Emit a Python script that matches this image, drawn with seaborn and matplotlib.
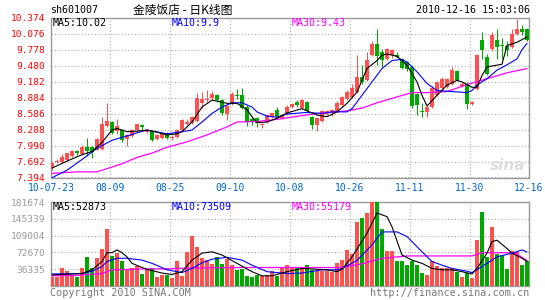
import matplotlib
matplotlib.use("Agg")
import matplotlib.pyplot as plt
import seaborn as sns

# ---------------- data ----------------
price_ticks = [10.374, 10.076, 9.778, 9.480, 9.182, 8.884, 8.586, 8.288, 7.990, 7.692, 7.394]
vol_ticks = [181674, 145339, 109004, 72670, 36335]
date_labels = ["10-07-23", "08-09", "08-25", "09-10", "10-08", "10-26", "11-11", "11-30", "12-16"]

opens = [7.57, 7.68, 7.69, 7.72, 7.80, 7.88, 7.83, 7.96, 7.96, 7.91, 7.92, 8.35, 8.43, 8.27, 8.28, 8.11,
         8.17, 8.28, 8.37, 8.24, 8.26, 8.12, 8.14, 8.22, 8.14, 8.15, 8.28, 8.40, 8.41, 8.45, 8.78, 8.84,
         8.87, 8.93, 8.84, 8.58, 8.76, 8.93, 8.93, 8.72, 8.48, 8.50, 8.37, 8.44, 8.52, 8.65, 8.50, 8.59,
         8.72, 8.80, 8.70, 8.81, 8.53, 8.37, 8.45, 8.58, 8.60, 8.63, 8.74, 8.86, 8.90, 8.99, 9.28, 9.21,
         9.68, 9.88, 9.74, 9.61, 9.68, 9.68, 9.61, 9.55, 9.46, 8.96, 8.63, 8.62, 8.71, 8.93, 9.06, 9.08,
         9.15, 9.38, 9.11, 9.15, 8.76, 9.04, 9.96, 9.64, 9.80, 9.97, 9.87, 9.85, 9.83, 10.08, 10.17, 10.16]
closes = [7.67, 7.71, 7.77, 7.85, 7.89, 7.85, 7.96, 7.89, 7.87, 8.12, 8.40, 8.45, 8.23, 8.35, 8.09, 8.19,
          8.29, 8.39, 8.33, 8.28, 8.09, 8.19, 8.22, 8.13, 8.16, 8.28, 8.46, 8.44, 8.53, 8.87, 8.86, 8.86,
          8.96, 8.85, 8.60, 8.73, 8.96, 8.91, 8.70, 8.43, 8.44, 8.41, 8.39, 8.56, 8.59, 8.52, 8.56, 8.71,
          8.76, 8.74, 8.84, 8.64, 8.37, 8.50, 8.63, 8.63, 8.66, 8.79, 8.90, 9.00, 9.07, 9.27, 9.17, 9.58,
          9.89, 9.66, 9.58, 9.80, 9.77, 9.64, 9.44, 9.43, 8.73, 8.74, 8.61, 8.71, 9.07, 9.18, 9.24, 9.24,
          9.40, 9.21, 9.15, 8.76, 8.81, 9.68, 9.77, 9.33, 10.05, 9.83, 9.85, 9.77, 10.08, 10.16, 10.11, 9.97]
highs = [7.70, 7.74, 7.83, 7.86, 7.91, 7.90, 8.00, 8.13, 7.98, 8.14, 8.52, 8.78, 8.45, 8.48, 8.30, 8.21,
         8.30, 8.40, 8.39, 8.30, 8.28, 8.20, 8.24, 8.24, 8.19, 8.30, 8.48, 8.48, 8.55, 8.98, 8.99, 9.03,
         9.01, 8.95, 8.86, 8.74, 9.00, 9.05, 9.06, 8.74, 8.52, 8.53, 8.42, 8.57, 8.60, 8.72, 8.58, 8.75,
         8.79, 8.84, 8.86, 8.83, 8.55, 8.52, 8.66, 8.65, 8.68, 8.82, 8.92, 9.02, 9.15, 9.68, 9.49, 9.74,
         9.95, 10.16, 9.80, 9.82, 9.80, 9.74, 9.63, 9.57, 9.50, 8.98, 8.78, 8.73, 9.10, 9.20, 9.27, 9.26,
         9.46, 9.40, 9.17, 9.17, 8.83, 9.70, 10.11, 9.70, 10.11, 10.16, 10.00, 9.95, 10.16, 10.36, 10.25, 10.18]
lows = [7.54, 7.66, 7.67, 7.70, 7.78, 7.82, 7.81, 7.80, 7.76, 7.90, 7.91, 8.33, 8.20, 8.20, 8.06, 7.98,
        8.15, 8.26, 8.28, 8.22, 8.07, 8.10, 8.12, 8.11, 8.10, 8.13, 8.27, 8.38, 8.39, 8.43, 8.70, 8.80,
        8.85, 8.80, 8.57, 8.47, 8.74, 8.86, 8.68, 8.36, 8.38, 8.34, 8.31, 8.42, 8.50, 8.50, 8.48, 8.57,
        8.70, 8.72, 8.68, 8.60, 8.30, 8.27, 8.44, 8.56, 8.55, 8.61, 8.72, 8.84, 8.88, 8.97, 9.15, 9.19,
        9.66, 9.50, 9.46, 9.58, 9.62, 9.62, 9.42, 9.38, 8.70, 8.56, 8.53, 8.53, 8.69, 8.91, 9.04, 9.06,
        9.13, 9.19, 9.09, 8.68, 8.74, 9.02, 9.60, 9.30, 9.75, 9.61, 9.61, 9.66, 9.81, 10.06, 10.06, 9.95]
volumes = [20000, 20000, 38000, 32000, 24000, 20000, 38000, 62000, 40000, 60000, 79000, 123000, 65000,
           71000, 54000, 36000, 38000, 43000, 27000, 37000, 38000, 19000, 24000, 24000, 18000, 54000,
           21000, 73000, 109000, 85000, 61000, 56000, 48000, 63000, 48000, 58000, 46000, 34000, 36000,
           21000, 19000, 23000, 22000, 24000, 33000, 22000, 39000, 45000, 40000, 38000, 42000, 45000,
           35000, 32000, 33000, 33000, 30000, 50000, 56000, 78000, 70000, 139000, 148000, 158000, 181000,
           181000, 123000, 76000, 75000, 54000, 54000, 45000, 54000, 45000, 29000, 24000, 55000, 43000,
           40000, 39000, 39000, 31000, 19000, 29000, 17000, 99000, 161000, 63000, 128000, 69000, 67000,
           37000, 76000, 74000, 45000, 55000]

ma5_x = [0, 3, 6, 8, 10, 12, 13, 15, 17, 19, 21, 23, 25, 26, 28, 30, 32, 33, 35, 37, 39, 40, 41, 43, 45,
         47, 50, 53, 55, 57, 59, 61, 62, 63, 65, 66, 67, 69, 70, 71, 73, 74, 75, 77, 79, 81, 82, 84, 85,
         86, 87, 90, 91, 93, 94, 95]
ma5_y = [7.57, 7.70, 7.82, 7.88, 8.05, 8.28, 8.31, 8.25, 8.26, 8.28, 8.24, 8.19, 8.21, 8.25, 8.43, 8.71,
         8.84, 8.82, 8.78, 8.78, 8.66, 8.53, 8.42, 8.43, 8.50, 8.60, 8.68, 8.56, 8.53, 8.62, 8.78, 8.99,
         9.21, 9.43, 9.58, 9.68, 9.70, 9.66, 9.58, 9.49, 9.18, 8.93, 8.73, 8.93, 9.12, 9.21, 9.18, 9.08,
         9.08, 9.30, 9.46, 9.51, 9.86, 9.92, 9.97, 10.02]
ma10_x = [0, 3, 6, 9, 12, 15, 17, 19, 23, 26, 28, 30, 32, 34, 36, 38, 40, 41, 43, 45, 47, 51, 54, 56, 59,
          60, 62, 64, 66, 68, 70, 71, 73, 75, 77, 80, 83, 84, 85, 87, 89, 91, 93, 94, 95]
ma10_y = [7.39, 7.53, 7.73, 7.94, 8.09, 8.17, 8.23, 8.28, 8.21, 8.25, 8.28, 8.43, 8.59, 8.71, 8.79, 8.79,
          8.71, 8.62, 8.54, 8.52, 8.58, 8.61, 8.59, 8.62, 8.62, 8.68, 8.93, 9.18, 9.43, 9.58, 9.60, 9.55,
          9.37, 9.15, 9.02, 9.00, 8.98, 9.02, 9.12, 9.24, 9.40, 9.50, 9.61, 9.78, 9.90]
ma30_x = [0, 5, 9, 11, 14, 17, 20, 23, 27, 31, 35, 37, 41, 45, 47, 53, 59, 62, 65, 69, 72, 75, 79, 83,
          87, 91, 95]
ma30_y = [7.47, 7.50, 7.50, 7.56, 7.65, 7.77, 7.85, 7.96, 8.06, 8.19, 8.34, 8.43, 8.44, 8.48, 8.51, 8.59,
          8.64, 8.69, 8.79, 8.90, 8.98, 8.98, 9.00, 9.13, 9.24, 9.35, 9.43]

vma5_x = [0, 6, 8, 10, 11, 12, 13, 14, 15, 16, 18, 19, 22, 24, 26, 28, 30, 32, 34, 36, 38, 40, 42, 44,
          47, 50, 52, 55, 57, 58, 60, 63, 65, 67, 68, 70, 72, 74, 76, 78, 80, 82, 84, 85, 87, 88, 89, 91,
          92, 94, 95]
vma5_y = [24000, 27000, 35000, 53000, 72000, 72000, 78000, 72000, 63000, 49000, 40000, 36000, 28000,
          25000, 31000, 56000, 71000, 74000, 67000, 55000, 43000, 31000, 22000, 22000, 31000, 38000,
          37000, 35000, 31000, 36000, 63000, 114000, 158000, 150000, 128000, 67000, 56000, 49000, 38000,
          35000, 35000, 31000, 26000, 38000, 71000, 96000, 99000, 81000, 71000, 60000, 53000]
vma10_x = [0, 6, 8, 10, 11, 13, 15, 18, 20, 23, 26, 28, 30, 32, 35, 38, 40, 43, 47, 50, 54, 57, 58, 61,
           64, 66, 69, 71, 74, 76, 78, 80, 83, 84, 86, 89, 92, 94, 95]
vma10_y = [26000, 27000, 32000, 42000, 53000, 60000, 60000, 56000, 49000, 35000, 29000, 38000, 50000,
           58000, 62000, 56000, 45000, 31000, 27000, 28000, 35000, 35000, 38000, 55000, 89000, 117000,
           117000, 107000, 74000, 53000, 45000, 38000, 32000, 29000, 42000, 63000, 71000, 78000, 73500]
vma30_x = [0, 5, 10, 12, 16, 18, 22, 28, 38, 47, 58, 62, 66, 71, 84, 86, 92, 93, 94, 95]
vma30_y = [22000, 23000, 27000, 35000, 36000, 37000, 37000, 39000, 40000, 40000, 40000, 48000, 60000,
           65000, 65000, 72000, 72000, 69000, 62000, 55000]

# ---------------- style ----------------
sns.set_style("white")
plt.rcParams['font.family'] = ['DejaVu Sans Mono', 'Noto Sans CJK SC', 'DejaVu Sans']

RED = '#ff5050'
GREEN = '#00a800'
GRIDC = '#a8a8a8'
FRAME = '#9a9a9a'

W, H = 545, 300
fig = plt.figure(figsize=(W / 100, H / 100), dpi=100)
fig.patch.set_facecolor('white')

L, R = 51, 529
ax = fig.add_axes([L / W, 1 - 177.5 / H, (R - L) / W, 159.5 / H])
axv = fig.add_axes([L / W, 1 - 286 / H, (R - L) / W, 84 / H])

n = len(closes)
xs = list(range(n))
x0, x1 = -0.2, 95.4
grid_pos = [x0] + [11.6 + 12 * k for k in range(7)] + [x1]

for a in (ax, axv):
    a.set_xlim(x0, x1)
    a.set_xticks(grid_pos)
    a.grid(True, color=GRIDC, linestyle=(0, (1, 2)), linewidth=0.8)
    a.set_axisbelow(True)
    for s in a.spines.values():
        s.set_color(FRAME)
        s.set_linewidth(1.0)
    a.tick_params(length=0)

# candles
colors = [RED if c >= o else GREEN for o, c in zip(opens, closes)]
ax.vlines(xs, lows, highs, colors=colors, linewidth=0.75, zorder=2)
bottoms = [min(o, c) for o, c in zip(opens, closes)]
heights = [max(abs(c - o), 0.014) for o, c in zip(opens, closes)]
ax.bar(xs, heights, bottom=bottoms, width=0.72, color=colors, linewidth=0, zorder=3)

sns.lineplot(x=ma30_x, y=ma30_y, ax=ax, color='#ff00ff', linewidth=0.9, estimator=None, zorder=4)
sns.lineplot(x=ma10_x, y=ma10_y, ax=ax, color='#0000ff', linewidth=0.8, estimator=None, zorder=5)
sns.lineplot(x=ma5_x, y=ma5_y, ax=ax, color='black', linewidth=0.8, estimator=None, zorder=6)

ax.set_ylim(price_ticks[-1], price_ticks[0])
ax.set_yticks(price_ticks)
ax.set_yticklabels([f"{v:.3f}" for v in price_ticks], color='#ff0000', fontsize=6.8)
ax.set_xticklabels(date_labels, color='#0066cc', fontsize=7)
ax.tick_params(axis='y', pad=4)
ax.tick_params(axis='x', pad=4)
ax.set_xlabel('')
ax.set_ylabel('')

# volume
axv.bar(xs, volumes, width=0.72, color=colors, linewidth=0, zorder=3)
sns.lineplot(x=vma30_x, y=vma30_y, ax=axv, color='#ff00ff', linewidth=0.9, estimator=None, zorder=4)
sns.lineplot(x=vma10_x, y=vma10_y, ax=axv, color='#0000ff', linewidth=0.8, estimator=None, zorder=5)
sns.lineplot(x=vma5_x, y=vma5_y, ax=axv, color='black', linewidth=0.8, estimator=None, zorder=6)
axv.set_ylim(0, vol_ticks[0])
axv.set_yticks(vol_ticks)
axv.set_yticklabels([str(v) for v in vol_ticks], color='#999999', fontsize=6.8)
axv.set_xticklabels([])
axv.tick_params(axis='y', pad=4)
axv.set_xlabel('')
axv.set_ylabel('')

# texts
def ft(x, y, s, **kw):
    fig.text(x / W, 1 - y / H, s, va='center', **kw)

ft(50, 10, "sh601007", fontsize=7.2, color='black')
ft(183, 10, "金陵饭店 - 日K线图", fontsize=8.5, color='black', ha='center',
   family=['Noto Sans CJK SC', 'DejaVu Sans'])
ft(530, 10, "2010-12-16 15:03:06", fontsize=7.2, color='black', ha='right')

ft(53, 23.5, "MA5:10.02", fontsize=7.2, color='black')
ft(172, 23.5, "MA10:9.9", fontsize=7.2, color='#0000ff')
ft(292, 23.5, "MA30:9.43", fontsize=7.2, color='#ff00ff')

ft(53, 207.5, "MA5:52873", fontsize=7.2, color='black')
ft(172, 207.5, "MA10:73509", fontsize=7.2, color='#0000ff')
ft(292, 207.5, "MA30:55179", fontsize=7.2, color='#ff00ff')

ft(50, 293.5, "Copyright 2010 SINA.COM", fontsize=7.3, color='#777777')
ft(529, 293.5, "http://finance.sina.com.cn", fontsize=7.3, color='#777777', ha='right')

ft(508, 166, "sina", fontsize=11, color='#dddddd', ha='center', style='italic',
   weight='bold', family=['DejaVu Sans'])

fig.savefig("out.png", dpi=100, facecolor='white')
